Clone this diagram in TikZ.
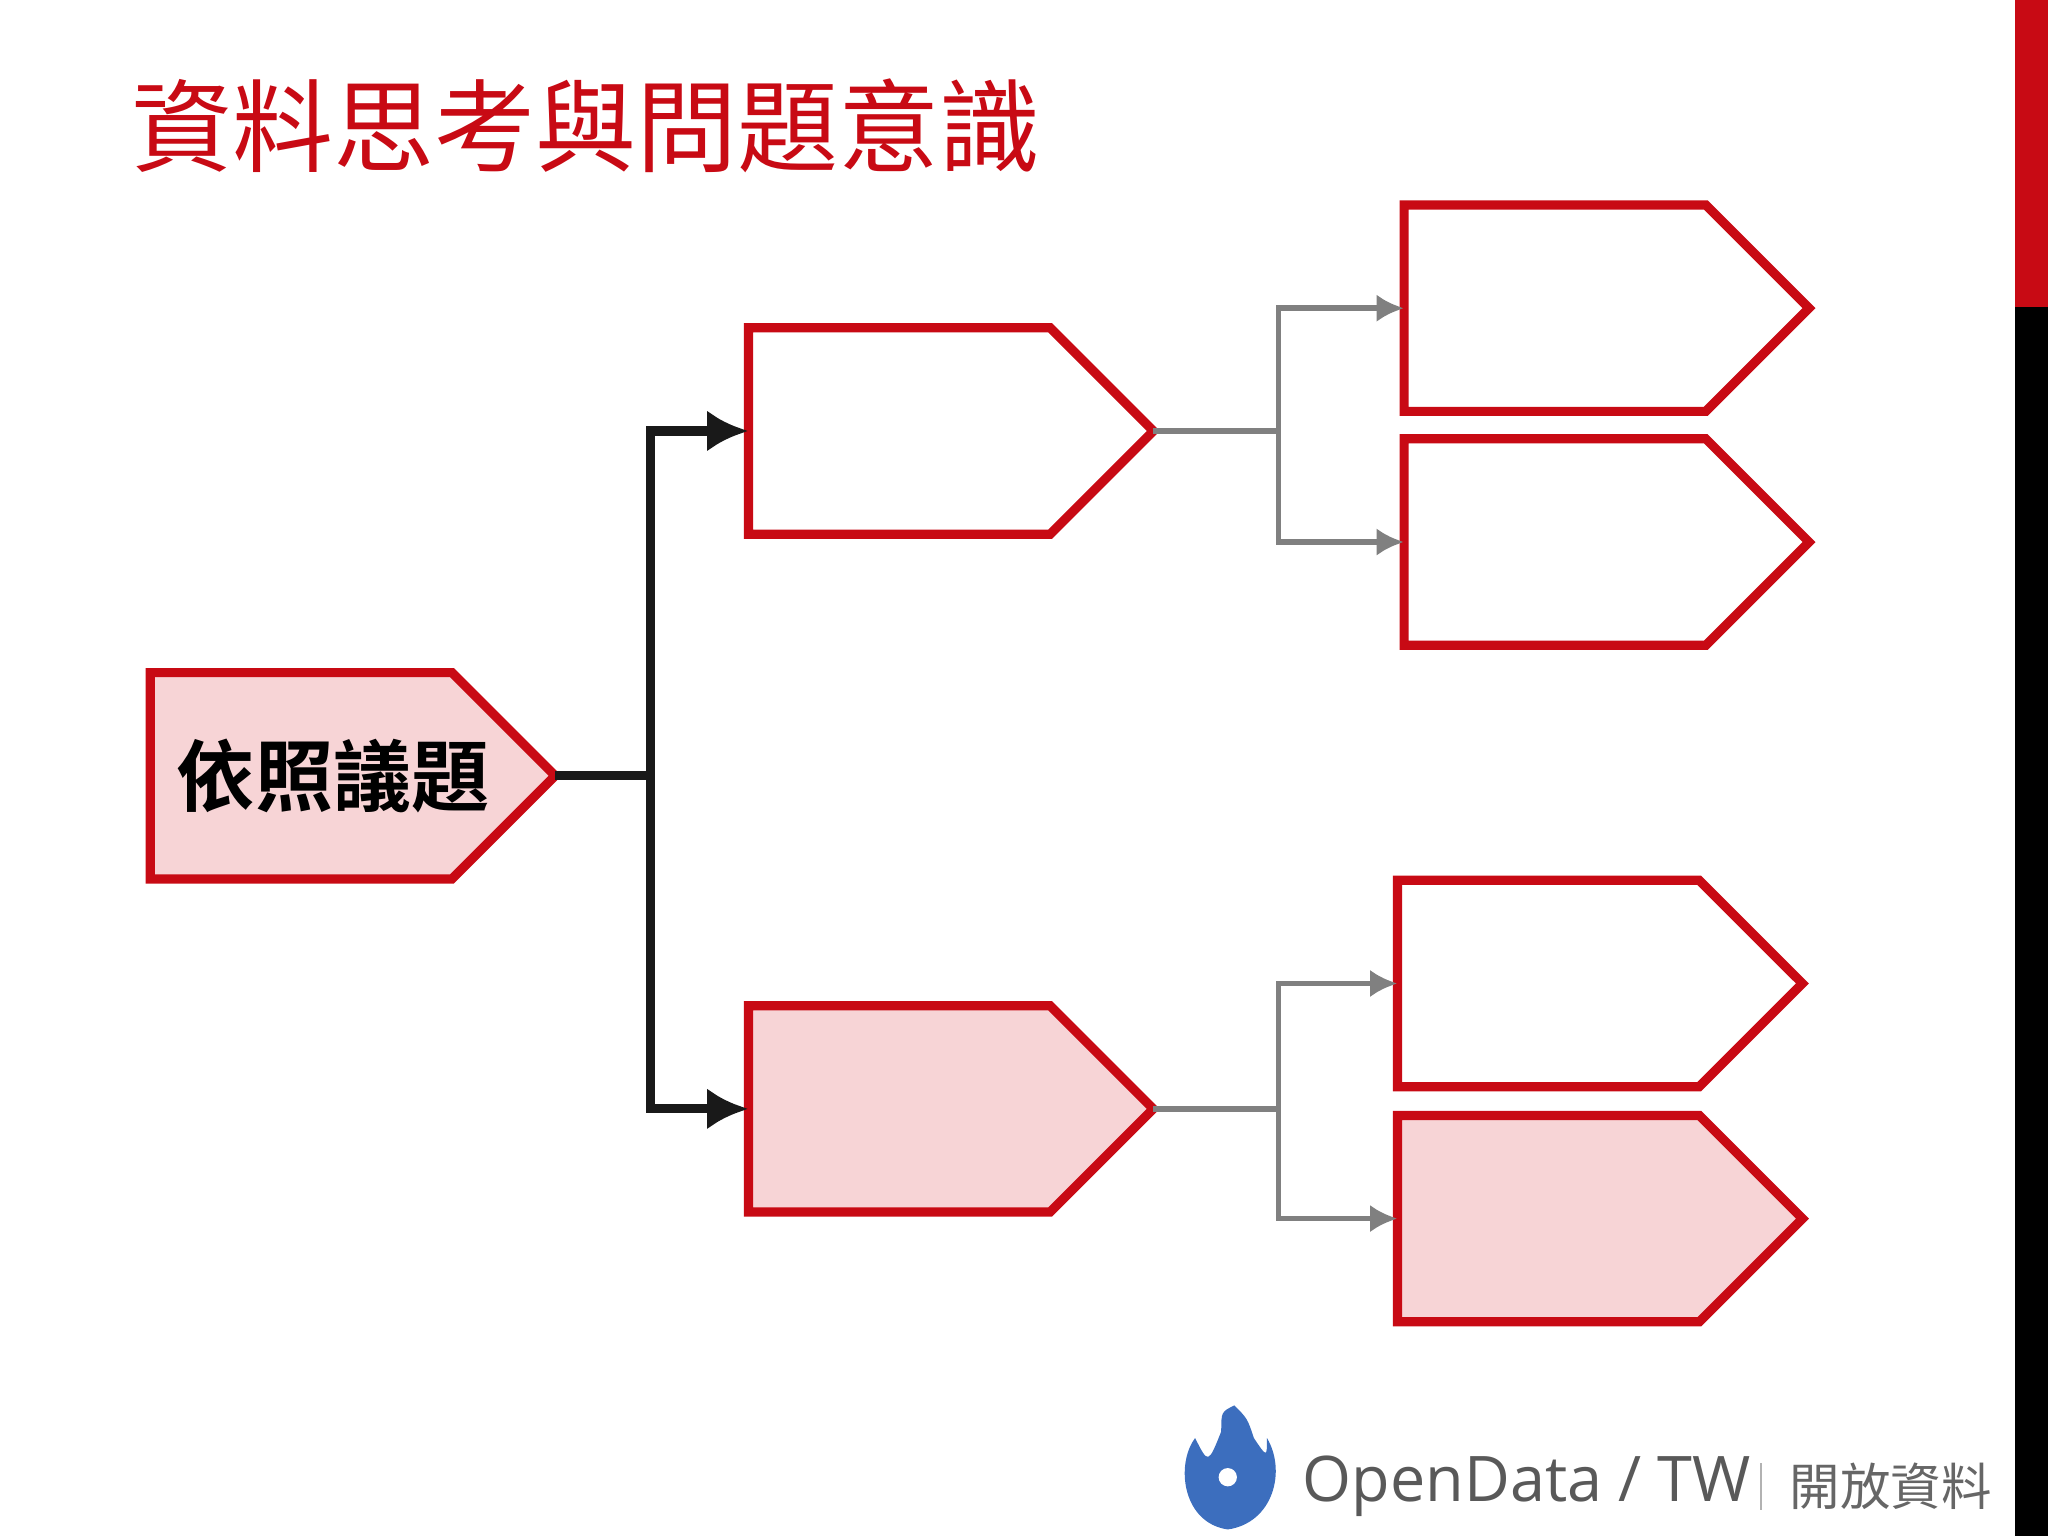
\documentclass[tikz,border=0pt]{standalone}
\usepackage{fontspec}
\setmainfont{Open Sans}
\newfontfamily\cjk{Noto Sans CJK TC}
\newfontfamily\cjkb{Noto Sans CJK TC Bold}
\usetikzlibrary{shapes.symbols,arrows.meta}
\definecolor{slidered}{RGB}{200,10,20}
\definecolor{slidepink}{RGB}{247,212,214}
\definecolor{logoblue}{RGB}{60,110,190}
\begin{document}
\begin{tikzpicture}[
  tag/.style={signal,signal to=east,signal pointer angle=90,draw=slidered,line width=2pt,
    minimum width=3.1cm,minimum height=1.58cm,inner sep=0pt,outer sep=0pt,fill=white,anchor=west},
  hot/.style={tag,fill=slidepink},
  trunk/.style={line width=2pt,black!90},
  branch/.style={line width=1.2pt,gray}]
  \useasboundingbox (0,0) rectangle (15.68,11.76);
  % side bar
  \fill[slidered] (15.43,9.41) rectangle (15.68,11.76);
  \fill[black] (15.43,0) rectangle (15.68,9.41);
  \node[anchor=west,text=slidered,font=\cjk\fontsize{22}{26}\selectfont] (title) at (0.88,10.80) {資料思考與問題意識};

  \node[hot] (root) at (1.15,5.82) {};
  \node[font=\cjkb\fontsize{17}{20}\selectfont] (rootlabel) at (2.55,5.82) {依照議題};
  \node[tag] (mt) at (5.73,8.46) {};
  \node[hot] (mb) at (5.73,3.27) {};
  \node[tag] (r1) at (10.75,9.40) {};
  \node[tag] (r2) at (10.75,7.61) {};
  \node[tag] (r3) at (10.70,4.23) {};
  \node[hot] (r4) at (10.70,2.43) {};

  \draw[trunk] (root.east) -- ++(0.73,0) coordinate (rj);
  \draw[trunk,-{Latex[length=9pt,width=9pt]}] (rj) |- (mt.west);
  \draw[trunk,-{Latex[length=9pt,width=9pt]}] (rj) |- (mb.west);
  \draw[branch] (mt.east) -- ++(0.96,0) coordinate (tj);
  \draw[branch,-{Latex[length=6pt,width=6pt]}] (tj) |- (r1.west);
  \draw[branch,-{Latex[length=6pt,width=6pt]}] (tj) |- (r2.west);
  \draw[branch] (mb.east) -- ++(0.96,0) coordinate (bj);
  \draw[branch,-{Latex[length=6pt,width=6pt]}] (bj) |- (r3.west);
  \draw[branch,-{Latex[length=6pt,width=6pt]}] (bj) |- (r4.west);

  % logo
  \fill[logoblue] (9.40,0.05) .. controls (9.05,0.10) and (9.00,0.55) .. (9.15,0.75)
    .. controls (9.25,0.55) .. (9.35,0.80) .. controls (9.35,0.95) .. (9.45,1.00)
    .. controls (9.55,0.90) .. (9.60,0.75) .. controls (9.70,0.60) .. (9.70,0.75)
    .. controls (9.85,0.50) and (9.75,0.10) .. (9.40,0.05) -- cycle;
  \fill[white] (9.40,0.45) circle (0.07);
  \node[anchor=west,text=black!65,font=\fontsize{13.7}{16}\selectfont] (logo) at (9.85,0.38) {OpenData / TW};
  \draw[gray!60] (13.48,0.20) -- (13.48,0.56);
  \node[anchor=west,text=black!60,font=\cjk\fontsize{11}{13}\selectfont] (logocn) at (13.58,0.38) {開放資料};
\end{tikzpicture}
\end{document}
